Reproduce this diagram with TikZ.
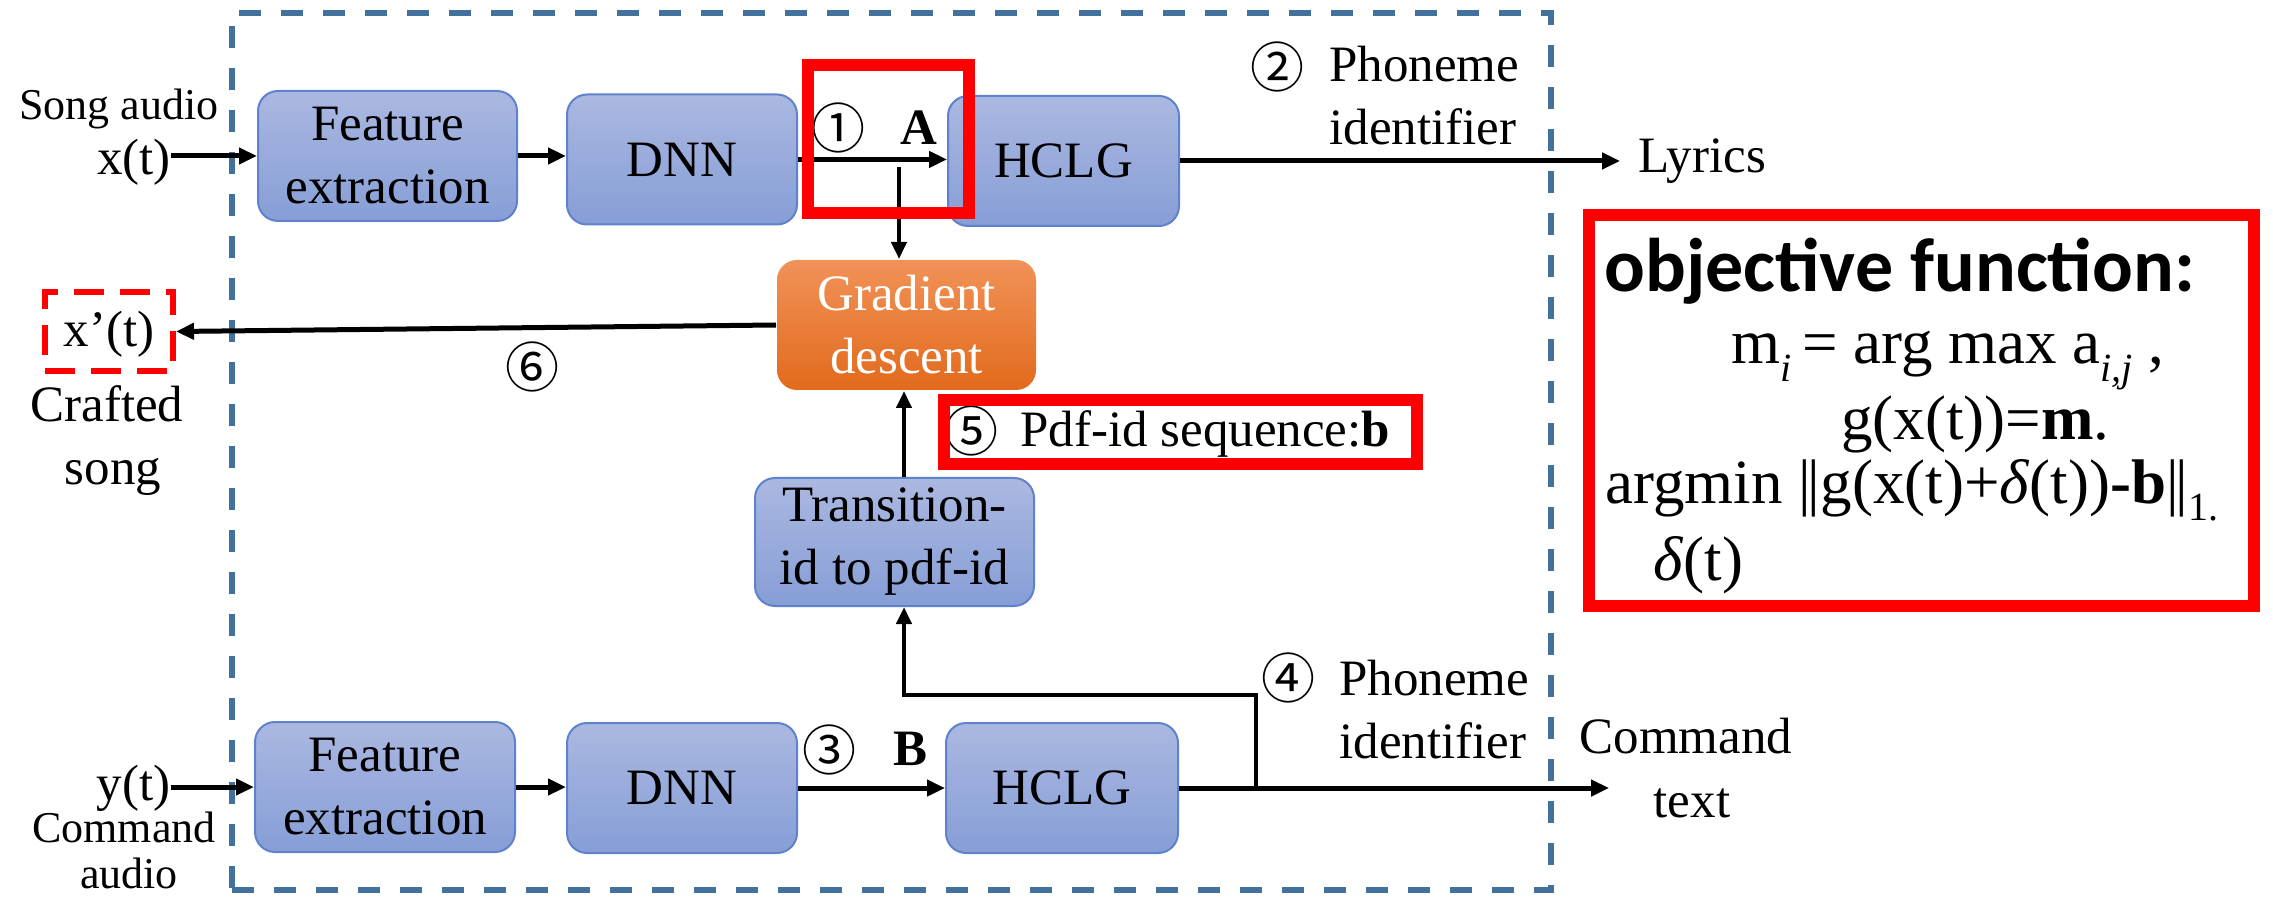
\documentclass[tikz,border=0pt]{standalone}
\usepackage{fontspec}
\setmainfont{Liberation Serif}
\newfontfamily\circfont{Noto Sans CJK SC}
\newfontfamily\calibfont{Carlito}
\usetikzlibrary{arrows.meta}
\definecolor{dashblue}{RGB}{65,113,156}
\definecolor{bluetop}{RGB}{171,184,225}
\definecolor{bluebot}{RGB}{134,158,214}
\definecolor{blueedge}{RGB}{95,130,205}
\definecolor{orgtop}{RGB}{241,146,88}
\definecolor{orgbot}{RGB}{226,106,28}
\newcommand{\mainsz}{\fontsize{25.5}{31.5}\selectfont}
\newcommand{\smallsz}{\fontsize{22}{26}\selectfont}
\newcommand{\eqsz}{\fontsize{31.5}{36}\selectfont}
\newcommand{\sbs}[1]{\raisebox{-0.28em}{\fontsize{20}{20}\selectfont #1}}
\newcommand{\dbar}{|\kern-0.05em|}
\tikzset{
  blk/.style={rounded corners=10pt, draw=blueedge, line width=1pt, top color=bluetop, bottom color=bluebot, minimum height=65pt, inner sep=0pt, align=center, font=\mainsz, text=black},
  lbl/.style={inner sep=0pt, font=\mainsz},
  circ/.style={inner sep=0pt, font=\circfont\fontsize{27}{27}\selectfont},
  arr/.style={line width=2.5pt, -{Triangle[length=9pt,width=8pt]}},
  thinarr/.style={line width=2pt, -{Triangle[length=8.5pt,width=7.5pt]}},
  redframe/.style={draw=red, line width=6pt, inner sep=0pt, fill=none}
}
\begin{document}
\begin{tikzpicture}[x=0.5pt,y=-0.5pt]
\useasboundingbox (0,0) rectangle (2273,897);
% dashed frame
\node[draw=dashblue, line width=3pt, dash pattern=on 11pt off 10pt, minimum width=659.5pt, minimum height=438.5pt, inner sep=0pt] (frame) at (891.5,451.5) {};

% top row
\node[blk, minimum width=129.5pt] (fe1) at (387.5,156) {Feature\\extraction};
\node[blk, minimum width=115pt] (dnn1) at (682,159.5) {DNN};
\node[blk, minimum width=115.5pt] (hc1) at (1063.5,161) {HCLG};
% bottom row
\node[blk, minimum width=130pt] (fe2) at (385,787) {Feature\\extraction};
\node[blk, minimum width=115pt] (dnn2) at (682,788) {DNN};
\node[blk, minimum width=116pt] (hc2) at (1062,788) {HCLG};
% middle
\node[blk, draw=none, top color=orgtop, bottom color=orgbot, text=white, minimum width=129.5pt] (grad) at (906.5,325) {Gradient\\descent};
\node[blk, minimum width=139.5pt, minimum height=64pt] (trans) at (894.5,542) {Transition-\\id to pdf-id};

% left labels
\node[lbl, anchor=base, font=\smallsz] (songa) at (119,120) {Song audio};
\node[lbl, anchor=base] (xt) at (134,175) {x(t)};
\node[draw=red, line width=3pt, dash pattern=on 15pt off 8pt, minimum width=64pt, minimum height=39.5pt, inner sep=0pt] (xp) at (109,331.5) {};
\node[lbl, anchor=base] (xptxt) at (109,347) {x’(t)};
\node[lbl, anchor=base] (craft) at (107,422) {Crafted};
\node[lbl, anchor=base] (songb) at (113,485) {song};
\node[lbl, anchor=base] (yt) at (133.5,800) {y(t)};
\node[lbl, anchor=base, font=\smallsz] (cmda) at (124,842) {Command};
\node[lbl, anchor=base, font=\smallsz] (cmdb) at (129,888) {audio};

% circled numbers and labels
\node[circ] (c1) at (838,128) {①};
\node[lbl, anchor=base] (labA) at (919,145) {\textbf{A}};
\node[circ] (c2) at (1277,67) {②};
\node[lbl, anchor=base west] (ph1) at (1329,82) {Phoneme};
\node[lbl, anchor=base west] (id1) at (1329,145) {identifier};
\node[lbl, anchor=base west] (lyr) at (1638,173) {Lyrics};
\node[circ] (c6) at (532,367) {⑥};
\node[circ] (c5) at (971,431) {⑤};
\node[lbl, anchor=base west] (pdf) at (1020,447) {Pdf-id sequence:\textbf{b}};
\node[circ] (c3) at (829,750) {③};
\node[lbl, anchor=base] (labB) at (910,765) {\textbf{B}};
\node[circ] (c4) at (1288,678) {④};
\node[lbl, anchor=base west] (ph2) at (1339,695) {Phoneme};
\node[lbl, anchor=base west] (id2) at (1339,758) {identifier};
\node[lbl, anchor=base] (cmdt1) at (1686,753) {Command};
\node[lbl, anchor=base] (cmdt2) at (1692,817) {text};

% coordinates
\coordinate (asplit) at (899,167);
\coordinate (lyrend) at (1620,160);
\coordinate (cmdend) at (1609,787);
\coordinate (br) at (1256,788);
\coordinate (bk) at (904,695);

% connectors
\draw[arr] (xt.east |- fe1.west) -- (fe1.west);
\draw[arr] (fe1.east) -- (fe1.east -| dnn1.west);
\draw[arr] (dnn1.east) -- (dnn1.east -| hc1.west);
\draw[thinarr] (asplit) -- (asplit |- grad.north);
\draw[arr] (hc1.east) -- (hc1.east -| lyrend);
\draw[arr] (grad.west) -- (xp.east);
\draw[thinarr] (trans.north -| bk) -- (grad.south -| bk);
\draw[thinarr, line width=2.25pt] (br) |- (bk) -- (bk |- trans.south);
\draw[arr] (yt.east |- fe2.west) -- (fe2.west);
\draw[arr] (fe2.east) -- (fe2.east -| dnn2.west);
\draw[arr] (dnn2.east) -- (dnn2.east -| hc2.west);
\draw[arr] (hc2.east) -- (hc2.east -| cmdend);

% red frames
\node[redframe, minimum width=80.5pt, minimum height=74pt] (rb1) at (888.5,139) {};
\node[redframe, minimum width=236.5pt, minimum height=32pt] (rb5) at (1180.5,432) {};
\node[redframe, minimum width=332.5pt, minimum height=195.5pt] (rbo) at (1921.5,410.5) {};

% objective function
\node[lbl, anchor=base west, font=\calibfont\bfseries\fontsize{38}{38}\selectfont] (objt) at (1604,292) {objective function:};
\node[lbl, anchor=base west, font=\eqsz] (eq1) at (1731,364) {m\sbs{\textit{i}}\,= arg max a\sbs{\textit{i,j}} ,};
\node[lbl, anchor=base west, font=\eqsz] (eq2) at (1841,440) {g(x(t))=\textbf{m}.};
\node[lbl, anchor=base west, font=\eqsz] (eq3) at (1605,503) {argmin \dbar g(x(t)+\textit{δ}(t))\textbf{-b}\dbar\sbs{1.}};
\node[lbl, anchor=base west, font=\eqsz] (eq4) at (1653,580) {\textit{δ}(t)};
\end{tikzpicture}
\end{document}
